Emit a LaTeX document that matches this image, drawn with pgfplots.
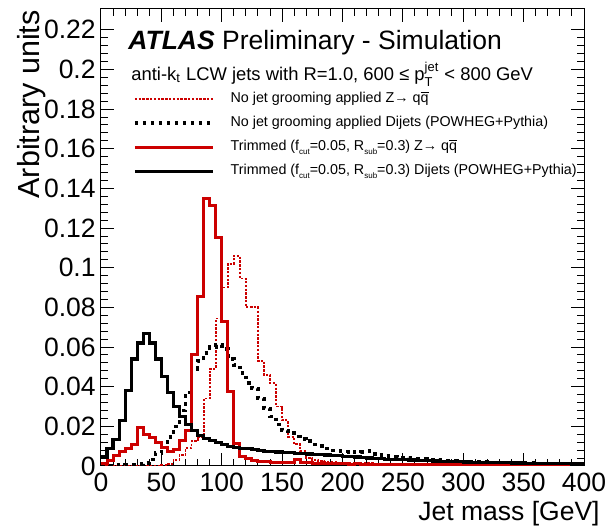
\documentclass[border=0pt]{standalone}
\usepackage{fontspec}
\setmainfont{Liberation Sans}
\usepackage{amsmath}
\usepackage{pgfplots}
\usepackage{pgfplotstable}
\pgfplotsset{compat=1.18}
\definecolor{atlasred}{RGB}{204,0,0}
\pgfplotstableread{
x bs bd rs rd
0 0.0045 0.0003 0.0013 0.0001
5 0.009 0.0003 0.003 0.0001
10 0.0135 0.0004 0.0055 0.0001
15 0.023 0.0004 0.0075 0.0001
20 0.038 0.0005 0.009 0.0001
25 0.054 0.0006 0.011 0.0001
30 0.062 0.0009 0.0195 0.0002
35 0.067 0.0015 0.016 0.0002
40 0.062 0.0032 0.0145 0.0003
45 0.054 0.0065 0.012 0.0003
50 0.045 0.011 0.0095 0.0005
55 0.037 0.0145 0.0075 0.0012
60 0.030 0.020 0.0085 0.003
65 0.025 0.028 0.013 0.0055
70 0.021 0.037 0.018 0.009
75 0.018 0.049 0.056 0.0125
80 0.0155 0.053 0.0857 0.0148
85 0.014 0.057 0.135 0.034
90 0.0128 0.060 0.1315 0.049
95 0.0118 0.061 0.115 0.0744
100 0.0108 0.059 0.0727 0.090
105 0.0100 0.054 0.0375 0.102
110 0.0095 0.051 0.0114 0.106
115 0.0090 0.047 0.0047 0.0946
120 0.0087 0.042 0.004 0.080
125 0.0082 0.039 0.003 0.080
130 0.0078 0.034 0.0025 0.053
135 0.0075 0.029 0.0022 0.046
140 0.0073 0.025 0.002 0.0417
145 0.0071 0.021 0.002 0.030
150 0.0069 0.018 0.0018 0.023
155 0.0067 0.0165 0.0018 0.0148
160 0.0065 0.0148 0.0035 0.011
165 0.0063 0.0137 0.0018 0.0075
170 0.0061 0.0125 0.0016 0.004
175 0.0059 0.0108 0.0015 0.003
180 0.0057 0.0102 0.0014 0.0025
185 0.0055 0.0088 0.0013 0.002
190 0.0053 0.0078 0.0012 0.002
195 0.0051 0.0076 0.0012 0.0018
200 0.0049 0.0073 0.0011 0.0016
205 0.0047 0.0068 0.0010 0.0015
210 0.0045 0.0070 0.0011 0.0015
215 0.0042 0.0072 0.0010 0.0014
220 0.0040 0.0075 0.0010 0.0015
225 0.0038 0.0062 0.0009 0.0013
230 0.0036 0.0054 0.0010 0.0013
235 0.0034 0.0049 0.0009 0.0012
240 0.0033 0.0046 0.0008 0.0012
245 0.0032 0.0043 0.0009 0.0011
250 0.0031 0.0041 0.0008 0.0011
255 0.0030 0.0039 0.0008 0.0010
260 0.0028 0.0037 0.0007 0.0010
265 0.0027 0.0035 0.0008 0.0009
270 0.0026 0.0033 0.0007 0.0010
275 0.0025 0.0031 0.0007 0.0009
280 0.0024 0.0029 0.0006 0.0009
285 0.0023 0.0027 0.0007 0.0008
290 0.0022 0.0025 0.0006 0.0009
295 0.0021 0.0023 0.0006 0.0008
300 0.0020 0.0022 0.0005 0.0008
305 0.0019 0.0021 0.0006 0.0007
310 0.0019 0.0020 0.0005 0.0008
315 0.0018 0.0019 0.0005 0.0007
320 0.0017 0.0018 0.0005 0.0007
325 0.0017 0.0018 0.0004 0.0007
330 0.0016 0.0017 0.0005 0.0006
335 0.0016 0.0016 0.0004 0.0007
340 0.0015 0.0016 0.0004 0.0006
345 0.0015 0.0015 0.0004 0.0006
350 0.0014 0.0014 0.0004 0.0006
355 0.0014 0.0014 0.0003 0.0005
360 0.0013 0.0013 0.0004 0.0006
365 0.0013 0.0013 0.0003 0.0005
370 0.0012 0.0012 0.0003 0.0006
375 0.0012 0.0012 0.0003 0.0005
380 0.0011 0.0011 0.0003 0.0005
385 0.0011 0.0011 0.0003 0.0006
390 0.0010 0.0010 0.0003 0.0005
395 0.0010 0.0010 0.0002 0.0005
400 0.0010 0.0010 0.0002 0.0005
}\hist
\newcommand\qqbar{q$\overline{\text{q}}$}
\newcommand\lsub[1]{\raisebox{-1.8pt}{\fontsize{4}{4}\selectfont #1}}
\begin{document}
\begin{tikzpicture}
\useasboundingbox (-50.5pt,-31.5pt) rectangle (254.5pt,233pt);
\begin{axis}[
  scale only axis, width=241.5pt, height=228.5pt,
  xmin=0, xmax=400, ymin=0, ymax=0.2305,
  axis line style={line width=0.5pt},
  xtick={0,50,100,150,200,250,300,350,400},
  xticklabels={0,50,100,150,200,250,300,350,400},
  ytick={0,0.02,0.04,0.06,0.08,0.1,0.12,0.14,0.16,0.18,0.2,0.22},
  yticklabels={0,0.02,0.04,0.06,0.08,0.1,0.12,0.14,0.16,0.18,0.2,0.22},
  minor x tick num=4, minor y tick num=4,
  tick align=inside, xtick pos=both, ytick pos=both,
  major tick length=6.5pt, minor tick length=3.5pt,
  every tick/.append style={line width=0.5pt, black},
  tick label style={font=\fontsize{13.25}{15}\selectfont},
  /pgf/number format/assume math mode=true,
  scaled y ticks=false, scaled x ticks=false,
  yticklabel style={inner sep=0pt, xshift=-2.5pt},
  xticklabel style={inner sep=0pt, yshift=-3.5pt},
  xlabel={Jet mass [GeV]},
  ylabel={Arbitrary units},
  xlabel style={at={(axis description cs:1,0)}, anchor=base east, inner sep=0pt, xshift=8pt, yshift=-27.5pt, font=\fontsize{13.25}{15}\selectfont},
  ylabel style={at={(axis description cs:-0.1263,0.998)}, anchor=base east, inner sep=0pt, font=\fontsize{15.25}{17}\selectfont},
  legend style={at={(axis description cs:0.0663,0.8200)}, anchor=north west, draw=none, fill=none, inner sep=0pt, outer sep=0pt, row sep=4.6pt, font=\fontsize{7.15}{8}\selectfont, nodes={inner sep=0pt, text height=5.5pt, text depth=2pt}, /tikz/every odd column/.append style={column sep=8pt}},
  legend cell align=left,
  legend image code/.code={\draw[#1] (0pt,0pt) -- (39pt,0pt);},
]
\addplot[const plot mark left, no marks, draw=atlasred, line width=0.9pt, dash pattern=on 1.2pt off 0.7pt] table[x=x,y=rd]{\hist};
\addlegendentry{No jet grooming applied Z→ \qqbar}
\addplot[const plot mark left, no marks, draw=black, line width=1.8pt, dash pattern=on 1.8pt off 2.2pt] table[x=x,y=bd]{\hist};
\addlegendentry{No jet grooming applied Dijets (POWHEG+Pythia)}
\addplot[const plot mark left, no marks, draw=atlasred, line width=1.5pt] table[x=x,y=rs]{\hist};
\addlegendentry{Trimmed (f\lsub{cut}=0.05, R\lsub{sub}=0.3) Z→ \qqbar}
\addplot[const plot mark left, no marks, draw=black, line width=1.6pt] table[x=x,y=bs]{\hist};
\addlegendentry{Trimmed (f\lsub{cut}=0.05, R\lsub{sub}=0.3) Dijets (POWHEG+Pythia)}
\node[anchor=base west, inner sep=0pt, font=\fontsize{13.25}{15}\selectfont] at (axis description cs:0.0559,0.9103) {\textbf{\textit{ATLAS}} Preliminary - Simulation};
\node[anchor=base west, inner sep=0pt, font=\fontsize{9.2}{11}\selectfont] at (axis description cs:0.0621,0.8435) {anti-k\textsubscript{t} LCW jets with R=1.0, 600 ≤ p$_{\text{T}}^{\text{jet}}$ < 800 GeV};
\end{axis}
\end{tikzpicture}
\end{document}
